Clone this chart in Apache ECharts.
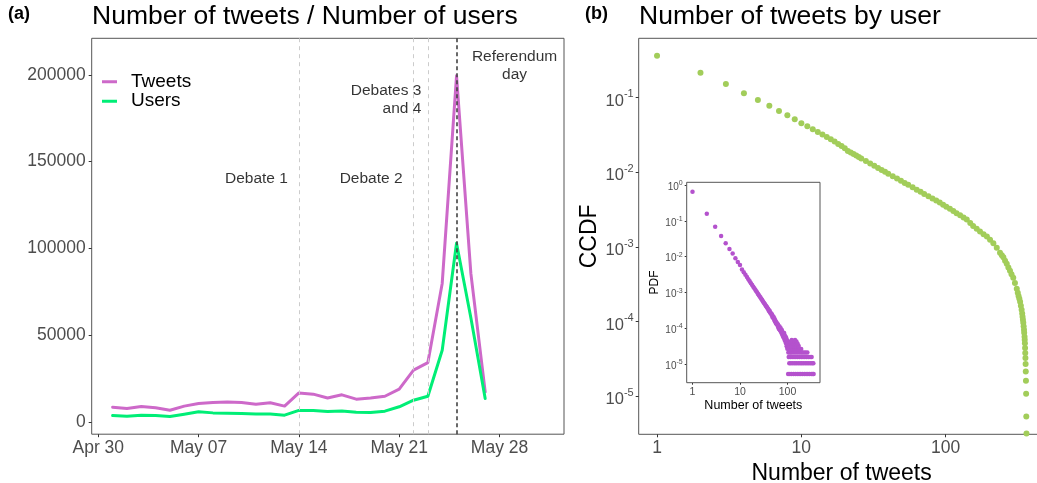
<!DOCTYPE html>
<html><head><meta charset="utf-8">
<script src="https://cdn.jsdelivr.net/npm/echarts@6/dist/echarts.min.js"></script>
<style>html,body{margin:0;padding:0;background:#fff}#c{width:1037px;height:483px}</style>
</head><body><div id="c"></div>
<script>
// ---------- Panel (a) data ----------
const dates = ['2018-05-01','2018-05-02','2018-05-03','2018-05-04','2018-05-05','2018-05-06','2018-05-07','2018-05-08','2018-05-09','2018-05-10','2018-05-11','2018-05-12','2018-05-13','2018-05-14','2018-05-15','2018-05-16','2018-05-17','2018-05-18','2018-05-19','2018-05-20','2018-05-21','2018-05-22','2018-05-23','2018-05-24','2018-05-25','2018-05-26','2018-05-27'];
const tweets = [8500,7700,8900,8100,6700,9100,10600,11200,11500,11200,10200,11000,9100,16700,16000,13800,15600,13100,13800,14800,18900,29800,34200,79800,199500,85600,17300];
const users = [3700,3300,3900,3700,3100,4400,5800,5200,5000,4800,4600,4600,3900,6600,6600,6000,6300,5600,5400,6200,8700,12500,14800,41300,103000,60000,13500];
const xTickDates = ['2018-04-30','2018-05-07','2018-05-14','2018-05-21','2018-05-28'];
const xTickLabels = ['Apr 30','May 07','May 14','May 21','May 28'];
const yTicksLeft = [0,50000,100000,150000,200000];
const eventDates = ['2018-05-14','2018-05-22','2018-05-23'];
const eventLabels = ['Debate 1','Debate 2','Debates 3\nand 4'];
const referendumDate = '2018-05-25';
const referendumLabel = 'Referendum\nday';

// ---------- Panel (b) data ----------
const ccdfN = [1,2,3,4,5,6,7,8,9,10,11,12,13,14,15,16,17,18,19,20,
  21,22,23,24,25,26,28,30,32,34,36,38,40,43,46,49,52,55,59,63,67,71,76,81,86,91,
  96,101,107,113,119,126,133,140,
  148,155,164,173,183,193,203,214,226,238,245,251,258,265,272,279,286,294,302,311,316,320,324,328,332,336,339,341,343,345,347,349,350,352,353,
  354,355,356,357,358,359,360,361,362,363];
const ccdfValues = [0.365,0.216,0.152,0.1146,0.0931,0.0781,0.0663,0.0581,0.0514,0.0454,0.0414,0.0377,0.0347,0.0320,0.0298,0.0277,0.0258,0.0240,0.0226,0.0210,
  0.01936,0.01841,0.01754,0.01675,0.01603,0.01535,0.01416,0.01313,0.01225,0.01146,0.01076,0.01016,0.00960,0.00887,0.00824,0.00771,0.00721,0.00679,0.00630,0.00586,0.00548,0.00514,0.00478,0.00446,0.00418,0.00393,
  0.00368,0.00347,0.00324,0.00303,0.00284,0.00266,0.00249,0.00234,
  0.00210,0.00191,0.00175,0.00161,0.001476,0.001377,0.001245,0.001125,0.000973,0.000834,0.000773,0.000726,0.000652,0.000594,0.000533,0.000479,0.000430,0.000386,0.000330,0.000275,0.000243,0.000221,0.000202,0.000184,0.000163,0.000144,0.000129,0.000116,0.000106,9.64e-5,8.65e-5,7.77e-5,7.08e-5,6.27e-5,5.70e-5,
  5.15e-5,4.42e-5,3.79e-5,3.25e-5,2.70e-5,2.15e-5,1.61e-5,1.08e-5,5.37e-6,3.18e-6];
// inset PDF: values for n = 1..100
const pdfHeadValues = [0.65,0.159,0.0689,0.0379,0.0238,0.0165,0.0122,0.00907,0.00716,0.00591,
  0.00437,0.00367,0.00313,0.00270,0.00235,0.00207,0.00183,0.00163,0.00146,0.00132,
  0.00120,0.00109,0.00100,0.000918,0.000848,0.000782,0.000727,0.000675,0.000630,0.000587,
  0.00055,0.000516,0.00049,0.000457,0.00043,0.000408,0.00039,0.000366,0.00035,0.00033,
  0.00030,0.00031,0.00028,0.00027,0.00026,0.00024,0.00025,0.00021,0.00022,0.00020,
  0.00021,0.00018,0.00019,0.00016,0.00017,0.00016,0.00014,0.00015,0.00013,0.00014,
  1.34e-4,1.18e-4,1.29e-4,1.07e-4,1.13e-4,9.7e-5,1.02e-4,1.13e-4,9.1e-5,9.7e-5,
  8.6e-5,1.02e-4,8.1e-5,8.6e-5,7.5e-5,9.1e-5,7.0e-5,8.1e-5,6.4e-5,7.5e-5,
  5.9e-5,7.0e-5,6.4e-5,5.4e-5,7.5e-5,5.9e-5,4.8e-5,6.4e-5,5.4e-5,4.3e-5,
  5.9e-5,4.8e-5,3.8e-5,5.4e-5,4.3e-5,3.2e-5,4.8e-5,3.8e-5,2.7e-5,4.3e-5];
// inset PDF tail (n > 100): discrete levels and the n values sitting on each level
const pdfTailLevels = [5.37e-6,1.07e-5,1.61e-5,2.15e-5,2.69e-5,3.22e-5,3.76e-5,4.3e-5,4.8e-5];
const pdfTailN = [
  [103,112,122,134,146,160,175,190,207,226,246,268,292,318,340,355],
  [109,118,129,141,153,168,183,199,216,236,257,280,305,330,350],
  [106,115,125,137,150,164,179,195,212,231,252,274,298,322],
  [104,113,120,131,143,156,171,187,203,221,240,262],
  [105,110,117,127,139,152,166,181,194],
  [107,114,124,133,145,158,172],
  [101,108,119,130,148,163],
  [116,126,138,154],
  [123,144]
];
const ccdfTicksX = [1,10,100];
const ccdfTicksY = [1e-1,1e-2,1e-3,1e-4,1e-5];
const pdfTicksX = [1,10,100];
const pdfTicksY = [1,1e-1,1e-2,1e-3,1e-4,1e-5];

// ---------- build ----------
const DAY = 86400000;
const ts = s => Date.parse(s + 'T00:00:00Z');
const FONT = "'Liberation Sans', Arial, sans-serif";
const GREY = '#4d4d4d';
const xTickTs = xTickDates.map(ts);

const pdfData = pdfHeadValues.map((v, i) => [i + 1, v]);
pdfTailN.forEach((row, k) => row.forEach(n => pdfData.push([n, pdfTailLevels[k]])));
const ccdfData = ccdfN.map((n, i) => [n, ccdfValues[i]]);

const supFmt = v => {
  const e = Math.round(Math.log10(v));
  return '{b|10}{s|' + e + '}';
};
const supRich = (big, small, pb, ps) => ({
  b: {fontSize: big, lineHeight: big, color: GREY, fontFamily: FONT, padding: [pb, 0, 0, 0]},
  s: {fontSize: small, lineHeight: small, color: GREY, fontFamily: FONT, padding: [ps[0], 0, ps[1], 0]}
});
const tickStyle = {show: true, length: 3, lineStyle: {color: '#333', width: 1}};
const gridBase = {show: true, borderColor: '#555', borderWidth: 1, backgroundColor: '#fff', containLabel: false, outerBoundsMode: 'none'};

const chart = echarts.init(document.getElementById('c'), null, {renderer: 'canvas'});
const option = {
  animation: false,
  backgroundColor: '#fff',
  textStyle: {fontFamily: FONT},
  title: [
    {text: '(a)', left: 8, top: 5, padding: 0, textStyle: {fontSize: 18, fontWeight: 'bold', color: '#000', fontFamily: FONT}},
    {text: 'Number of tweets / Number of users', left: 92, top: 3, padding: 0, textStyle: {fontSize: 26.5, fontWeight: 'normal', color: '#000', fontFamily: FONT}},
    {text: '(b)', left: 585, top: 5, padding: 0, textStyle: {fontSize: 18, fontWeight: 'bold', color: '#000', fontFamily: FONT}},
    {text: 'Number of tweets by user', left: 639, top: 3, padding: 0, textStyle: {fontSize: 26.5, fontWeight: 'normal', color: '#000', fontFamily: FONT}}
  ],
  legend: {
    data: ['Tweets', 'Users'], orient: 'vertical', left: 102, top: 72, padding: 0,
    icon: 'rect', itemWidth: 15, itemHeight: 3, itemGap: 0,
    textStyle: {fontSize: 19, lineHeight: 19.5, color: '#000', fontFamily: FONT, padding: [0, 0, 0, 9]}
  },
  grid: [
    Object.assign({left: 91.7, top: 38.3, width: 472.3, height: 395.9}, gridBase),
    Object.assign({left: 638.7, top: 38.3, width: 405.8, height: 396}, gridBase),
    Object.assign({left: 686.7, top: 182.3, width: 133.3, height: 200.4, z: 3}, gridBase)
  ],
  xAxis: [
    {type: 'value', gridIndex: 0, min: ts('2018-04-30') - 0.46 * DAY, max: ts('2018-04-30') + 32.5 * DAY,
      axisLine: {show: false, onZero: false}, splitLine: {show: false},
      axisTick: Object.assign({customValues: xTickTs}, tickStyle),
      axisLabel: {customValues: xTickTs, formatter: v => { const i = xTickTs.indexOf(v); return i >= 0 ? xTickLabels[i] : ''; },
        fontSize: 17.5, color: GREY, margin: 5, fontFamily: FONT}},
    {type: 'log', logBase: 10, gridIndex: 1, min: 0.7464, max: 484,
      axisLine: {show: false, onZero: false}, splitLine: {show: false}, minorTick: {show: false},
      axisTick: Object.assign({customValues: ccdfTicksX}, tickStyle),
      axisLabel: {customValues: ccdfTicksX, formatter: v => String(Math.round(v)), fontSize: 17.5, color: GREY, margin: 5, fontFamily: FONT},
      name: 'Number of tweets', nameLocation: 'middle', nameGap: 18,
      nameTextStyle: {fontSize: 23, color: '#000', fontFamily: FONT}},
    {type: 'log', logBase: 10, gridIndex: 2, min: 0.755, max: 483,
      axisLine: {show: false, onZero: false}, splitLine: {show: false},
      axisTick: Object.assign({customValues: pdfTicksX}, tickStyle, {length: 2}),
      axisLabel: {customValues: pdfTicksX, formatter: v => String(Math.round(v)), fontSize: 10.5, color: GREY, margin: 4, fontFamily: FONT},
      name: 'Number of tweets', nameLocation: 'middle', nameGap: 15,
      nameTextStyle: {fontSize: 12.5, color: '#000', fontFamily: FONT}}
  ],
  yAxis: [
    {type: 'value', gridIndex: 0, min: -7090, max: 221100,
      axisLine: {show: false, onZero: false}, splitLine: {show: false},
      axisTick: Object.assign({customValues: yTicksLeft}, tickStyle),
      axisLabel: {customValues: yTicksLeft, formatter: v => String(v), fontSize: 17.5, color: GREY, margin: 6, fontFamily: FONT}},
    {type: 'log', logBase: 10, gridIndex: 1, min: 3.097e-6, max: 0.6237,
      axisLine: {show: false, onZero: false}, splitLine: {show: false},
      axisTick: Object.assign({customValues: ccdfTicksY}, tickStyle),
      axisLabel: {customValues: ccdfTicksY, formatter: supFmt, rich: supRich(16.5, 11, 7, [3, 10]), margin: 5},
      name: 'CCDF', nameLocation: 'middle', nameGap: 38,
      nameTextStyle: {fontSize: 23, color: '#000', fontFamily: FONT}},
    {type: 'log', logBase: 10, gridIndex: 2, min: 3.07e-6, max: 1.189,
      axisLine: {show: false, onZero: false}, splitLine: {show: false},
      axisTick: Object.assign({customValues: pdfTicksY}, tickStyle, {length: 2}),
      axisLabel: {customValues: pdfTicksY, formatter: supFmt, rich: supRich(10, 7, 4, [2, 6]), margin: 4},
      name: 'PDF', nameLocation: 'middle', nameGap: 26,
      nameTextStyle: {fontSize: 12, color: '#000', fontFamily: FONT}}
  ],
  series: [
    {type: 'line', name: 'vlines', xAxisIndex: 0, yAxisIndex: 0, data: [], z: 1,
      markLine: {silent: true, symbol: ['none', 'none'], label: {show: false}, animation: false,
        lineStyle: {color: '#cccccc', type: [4, 4], width: 1},
        data: eventDates.map(d => ({xAxis: ts(d)}))}},
    {type: 'line', name: 'Tweets', xAxisIndex: 0, yAxisIndex: 0, z: 3,
      data: dates.map((d, i) => [ts(d), tweets[i]]), showSymbol: false, symbol: 'none',
      lineStyle: {width: 3, color: '#CD69C9', cap: 'round', join: 'round'}, itemStyle: {color: '#CD69C9'}},
    {type: 'line', name: 'Users', xAxisIndex: 0, yAxisIndex: 0, z: 3,
      data: dates.map((d, i) => [ts(d), users[i]]), showSymbol: false, symbol: 'none',
      lineStyle: {width: 3, color: '#00EE76', cap: 'round', join: 'round'}, itemStyle: {color: '#00EE76'}},
    {type: 'line', name: 'refline', xAxisIndex: 0, yAxisIndex: 0, data: [], z: 5,
      markLine: {silent: true, symbol: ['none', 'none'], label: {show: false}, animation: false,
        lineStyle: {color: '#444', type: [4, 3], width: 1.6},
        data: [{xAxis: ts(referendumDate)}]}},
    {type: 'scatter', name: 'annot', xAxisIndex: 0, yAxisIndex: 0, symbolSize: 0, z: 6, silent: true,
      label: {show: true, color: '#000', fontSize: 15.5, lineHeight: 18, fontFamily: FONT},
      data: [
        {value: [ts(eventDates[0]), 140400], label: {position: 'left', distance: 11, formatter: eventLabels[0]}},
        {value: [ts(eventDates[1]), 140400], label: {position: 'left', distance: 11, formatter: eventLabels[1]}},
        {value: [ts(eventDates[2]), 185700], label: {position: 'left', distance: 6.5, formatter: eventLabels[2]}},
        {value: [ts(referendumDate), 205500], label: {position: 'inside', offset: [58, 0], align: 'center', formatter: referendumLabel}}
      ]},
    {type: 'scatter', name: 'ccdf', xAxisIndex: 1, yAxisIndex: 1, symbolSize: 6, z: 2,
      itemStyle: {color: '#A2CD5A', opacity: 1}, data: ccdfData},
    {type: 'scatter', name: 'pdf', xAxisIndex: 2, yAxisIndex: 2, symbolSize: 4.5, z: 10,
      itemStyle: {color: '#B452CD', opacity: 1}, data: pdfData}
  ]
};
chart.setOption(option);
</script></body></html>
